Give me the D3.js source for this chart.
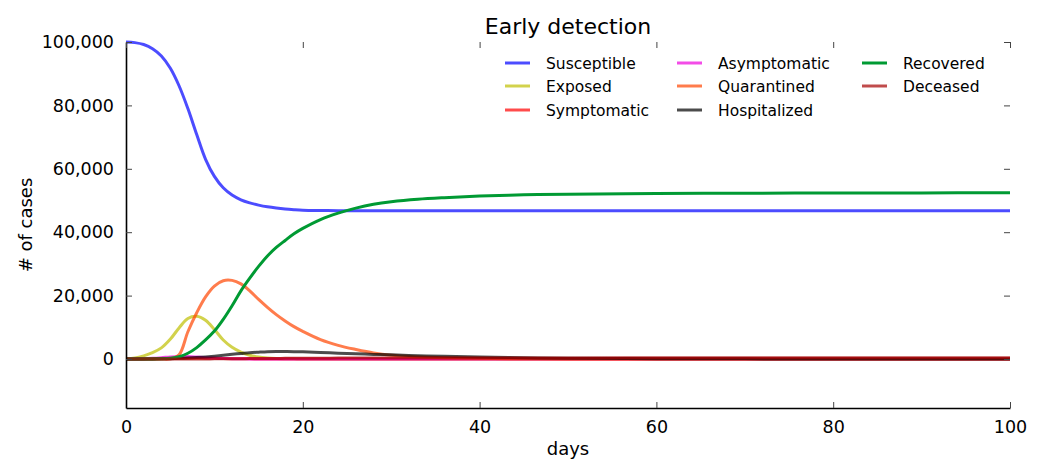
<!DOCTYPE html>
<html>
<head>
<meta charset="utf-8">
<script src="https://cdn.jsdelivr.net/npm/d3@7"></script>
<style>
  body { margin: 0; background: #fff; }
  text { font-family: "DejaVu Sans", sans-serif; fill: #000; }
</style>
</head>
<body>
<svg id="chart" width="1043" height="460"></svg>
<script>
const days = [0,1,2,3,4,5,6,7,8,9,10,11,12,13,14,15,16,17,18,19,20,22,24,26,28,30,33,36,40,45,50,60,70,80,90,100];

const susceptible = [100000,99800,99200,97900,95600,91800,86200,79000,70800,63000,57600,54000,51700,50200,49250,48550,48000,47600,47300,47100,46950,46850,46800,46780,46770,46760,46750,46750,46750,46750,46750,46750,46750,46750,46750,46750];
const exposed = [0,300,1000,2000,3500,6200,9800,12800,13500,12200,9300,6000,3700,2200,1200,600,300,150,80,40,20,5,0,0,0,0,0,0,0,0,0,0,0,0,0,0];
const symptomatic = [0,10,30,60,120,200,300,350,330,270,200,140,90,60,40,25,15,10,5,3,2,0,0,0,0,0,0,0,0,0,0,0,0,0,0,0];
const asymptomatic = [0,20,80,200,400,650,800,750,600,420,280,170,100,60,35,20,10,5,3,2,1,0,0,0,0,0,0,0,0,0,0,0,0,0,0,0];
const quarantined = [0,0,0,0,5,50,1300,8600,14600,19600,23000,24700,24800,23700,21500,18800,16300,14000,12000,10200,8700,6100,4300,3000,1900,1200,700,400,200,80,30,5,0,0,0,0];
const hospitalized = [0,5,15,30,60,110,200,300,450,650,900,1200,1500,1750,2000,2150,2280,2350,2350,2300,2250,2050,1850,1650,1450,1300,1050,850,600,400,250,100,40,20,10,5];
const recovered = [0,0,0,20,80,250,700,1800,3600,6000,8800,12500,16800,21500,25500,29200,32500,35200,37400,39500,41200,44000,46000,47600,48800,49600,50400,50900,51400,51800,52000,52200,52300,52400,52400,52450];
const deceased = [0,0,0,0,0,2,5,10,20,30,45,60,80,100,120,140,160,180,200,215,230,255,275,290,300,310,320,330,340,345,350,355,358,360,360,360];

const seriesNames = ["Susceptible","Exposed","Symptomatic","Asymptomatic","Quarantined","Hospitalized","Recovered","Deceased"];
const seriesValues = [susceptible, exposed, symptomatic, asymptomatic, quarantined, hospitalized, recovered, deceased];
const seriesColors = ["#0000ff","#bfbf00","#ff0000","#ee00dd","#ff4500","#000000","#009a33","#a50000"];
const seriesOpacity = [0.7,0.7,0.7,0.7,0.7,0.7,1,0.7];

const xTicks = [0,20,40,60,80,100];
const yTicks = [0,20000,40000,60000,80000,100000];

const titleText = "Early detection";
const xLabel = "days";
const yLabel = "# of cases";

const L = 126, R = 1010, T = 42, B = 408;
const svg = d3.select("#chart");
const x = d3.scaleLinear().domain([0,100]).range([L,R]);
const y = d3.scaleLinear().domain([-15460,100000]).range([B,T]);

// lines
const line = d3.line().x(d => x(d[0])).y(d => y(d[1])).curve(d3.curveCatmullRom.alpha(0.5));
const g = svg.append("g");
seriesValues.forEach((vals,i) => {
  g.append("path")
    .datum(days.map((d,j) => [d, vals[j]]))
    .attr("d", line)
    .attr("fill","none")
    .attr("stroke", seriesColors[i])
    .attr("stroke-opacity", seriesOpacity[i])
    .attr("stroke-width", 3)
    .attr("stroke-linejoin","round");
});

// axes
const fmt = d3.format(",");
const xAxis = svg.append("g").attr("transform", `translate(0,${B})`)
  .call(d3.axisBottom(x).tickValues(xTicks).tickSizeInner(-6).tickSizeOuter(0).tickPadding(13));
const yAxis = svg.append("g").attr("transform", `translate(${L},0)`)
  .call(d3.axisLeft(y).tickValues(yTicks).tickFormat(fmt).tickSizeInner(-6).tickSizeOuter(0).tickPadding(12));
const topAxis = svg.append("g").attr("transform", `translate(0,${T})`)
  .call(d3.axisTop(x).tickValues(xTicks).tickSizeInner(-6).tickSizeOuter(0).tickFormat(""));
const rightAxis = svg.append("g").attr("transform", `translate(${R},0)`)
  .call(d3.axisRight(y).tickValues(yTicks).tickSizeInner(-6).tickSizeOuter(0).tickFormat(""));
[topAxis, rightAxis].forEach(a => a.select(".domain").remove());
[xAxis, yAxis, topAxis, rightAxis].forEach(a => {
  a.selectAll(".tick line").attr("stroke","#444").attr("stroke-width",1);
  a.selectAll("text").style("font-size","17.5px").style("font-family","DejaVu Sans").attr("fill","#000");
});
[xAxis, yAxis].forEach(a => a.select(".domain").attr("stroke","#000").attr("stroke-width",1.6));

// title and labels
svg.append("text").attr("x", (L+R)/2).attr("y", 34).attr("text-anchor","middle")
  .style("font-size","22px").text(titleText);
svg.append("text").attr("x", (L+R)/2).attr("y", 455).attr("text-anchor","middle")
  .style("font-size","18px").text(xLabel);
svg.append("text").attr("transform", `translate(32,${(T+B)/2}) rotate(-90)`).attr("text-anchor","middle")
  .style("font-size","18px").text(yLabel);

// legend
const colX = [505, 677, 862];
const rowY = [63, 86, 110];
seriesNames.forEach((name,i) => {
  const c = Math.floor(i/3), r = i%3;
  const lg = svg.append("g").attr("transform", `translate(${colX[c]},${rowY[r]})`);
  lg.append("line").attr("x1",0).attr("x2",25).attr("y1",0).attr("y2",0)
    .attr("stroke", seriesColors[i]).attr("stroke-opacity", seriesOpacity[i]).attr("stroke-width",3);
  lg.append("text").attr("x", 41).attr("y", 5.5).style("font-size","15.5px").text(name);
});
</script>
</body>
</html>
